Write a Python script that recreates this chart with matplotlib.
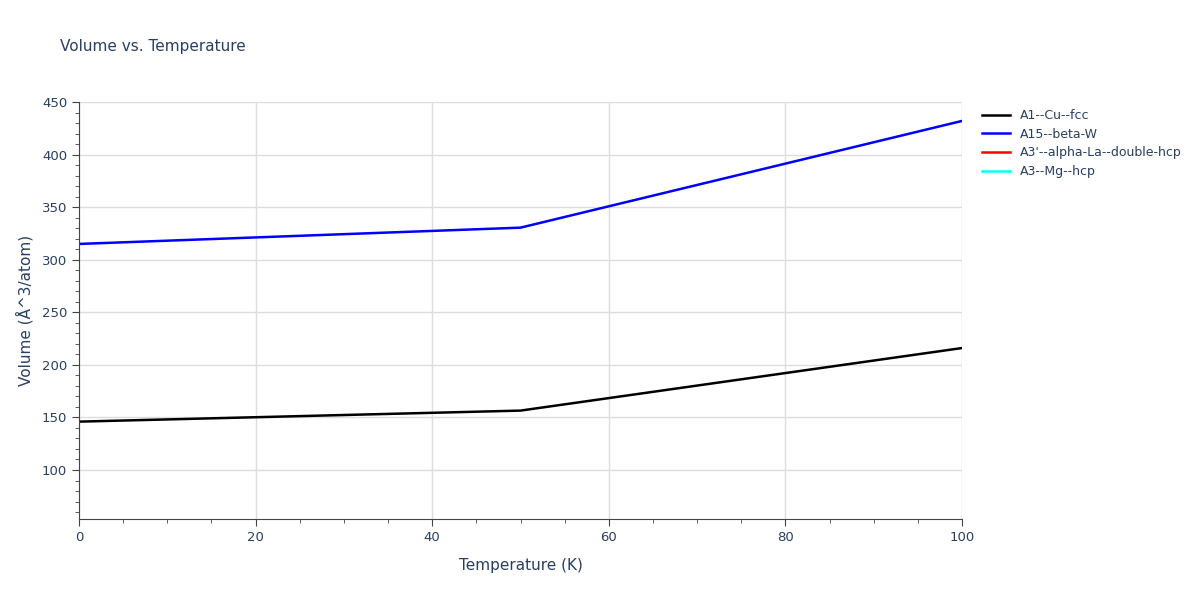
import matplotlib
matplotlib.use("Agg")
import matplotlib.pyplot as plt
from matplotlib.ticker import MultipleLocator

temps = [0, 50, 100]
cu_fcc = [146.0, 156.5, 216.0]
beta_w = [315.0, 330.5, 432.0]
la_temps = []
la_dhcp = []
mg_temps = []
mg_hcp = []

fig = plt.figure(figsize=(12, 6), dpi=100)
ax = fig.add_axes([0.0658, 0.135, 0.7359, 0.695])
tc = '#2a3f5f'
ax.plot(temps, cu_fcc, color='black', lw=1.8, label='A1--Cu--fcc')
ax.plot(temps, beta_w, color='blue', lw=1.8, label='A15--beta-W')
ax.plot(la_temps, la_dhcp, color='red', lw=1.8, label="A3'--alpha-La--double-hcp")
ax.plot(mg_temps, mg_hcp, color='cyan', lw=1.8, label='A3--Mg--hcp')
ax.set_xlim(0, 100)
ax.set_ylim(53.4, 450)
ax.set_yticks(range(100, 451, 50))
ax.xaxis.set_minor_locator(MultipleLocator(5))
ax.yaxis.set_minor_locator(MultipleLocator(10))
ax.grid(True, color='#dddddd', lw=1)
ax.set_axisbelow(True)
for s in ['top', 'right']:
    ax.spines[s].set_visible(False)
for s in ['left', 'bottom']:
    ax.spines[s].set_color('#444444')
ax.tick_params(which='both', colors='#444444', labelcolor=tc, labelsize=9.5)
ax.tick_params(which='major', length=5)
ax.tick_params(which='minor', length=3)
ax.set_xlabel('Temperature (K)', color=tc, fontsize=11, labelpad=10)
ax.set_ylabel('Volume (Å^3/atom)', color=tc, fontsize=11, labelpad=6)
fig.text(0.05, 0.915, 'Volume vs. Temperature', color=tc, fontsize=11)
leg = ax.legend(loc='upper left', bbox_to_anchor=(1.01, 1.01), frameon=False,
                fontsize=9, handlelength=2.2, labelspacing=0.45)
for t in leg.get_texts():
    t.set_color(tc)
fig.savefig('out.png')
